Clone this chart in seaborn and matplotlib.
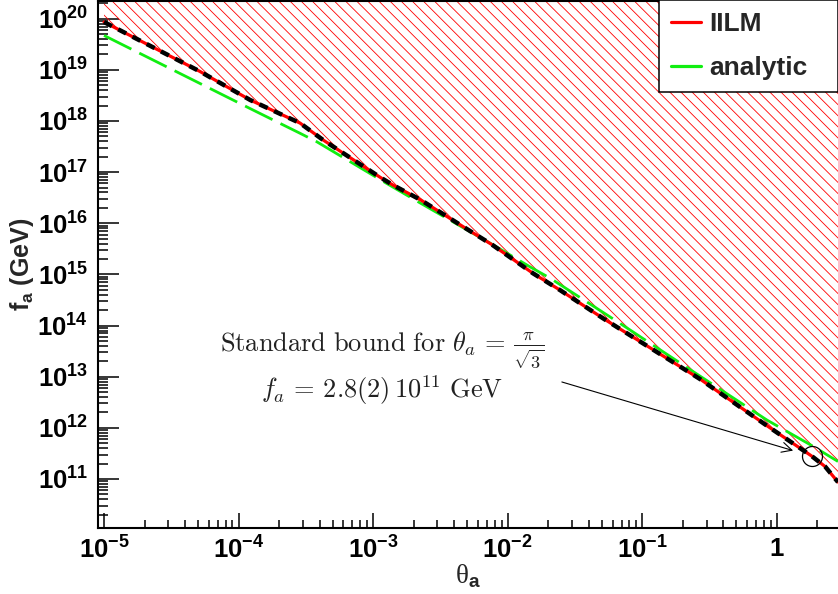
import numpy as np
import matplotlib
matplotlib.use("Agg")
import matplotlib.pyplot as plt
import seaborn as sns
from matplotlib.lines import Line2D
from matplotlib.ticker import FixedLocator, LogLocator, NullFormatter

# ---------------- data ----------------
iilm_theta = [1.0e-5, 5.16e-5, 1.22e-4, 2.86e-4, 4.24e-4, 1.12e-3, 1.40e-3, 2.26e-3,
              4.65e-3, 7.7e-3, 1.54e-2, 2.44e-2, 5.09e-2, 0.268, 0.843, 1.814, 2.28, 2.84]
iilm_fa = [8.6e19, 9.3e18, 2.57e18, 9.1e17, 4.26e17, 8.0e16, 5.6e16, 2.85e16,
           8.6e15, 3.76e15, 1.05e15, 4.95e14, 1.39e14, 9.0e12, 1.1e12, 2.8e11, 1.75e11, 8.7e10]

analytic_theta = [1.0e-5, 1.25e-4, 2.86e-4, 3.80e-4, 1.26e-3, 2.26e-3, 7.8e-3,
                  1.46e-2, 2.07e-2, 6.8e-2, 0.25, 0.843, 1.87, 2.84]
analytic_fa = [4.7e19, 1.69e18, 5.75e17, 3.94e17, 6.0e16, 2.45e16, 3.76e15,
               1.41e15, 8.4e14, 1.11e14, 1.16e13, 1.42e12, 4.3e11, 2.2e11]

theta_std = np.pi / np.sqrt(3)   # standard bound point
fa_std = 2.8e11

x_major = [1e-5, 1e-4, 1e-3, 1e-2, 1e-1, 1]
x_labels = [r"$10^{-5}$", r"$10^{-4}$", r"$10^{-3}$", r"$10^{-2}$", r"$10^{-1}$", r"$1$"]
y_major = [1e11, 1e12, 1e13, 1e14, 1e15, 1e16, 1e17, 1e18, 1e19, 1e20]
y_labels = [r"$10^{%d}$" % k for k in range(11, 21)]

legend_labels = ["IILM", "analytic"]

# ---------------- style ----------------
sns.set_style("ticks")
plt.rcParams["font.family"] = ["Liberation Sans", "DejaVu Sans"]
plt.rcParams["mathtext.fontset"] = "custom"
plt.rcParams["mathtext.rm"] = "Liberation Sans:bold"
plt.rcParams["mathtext.it"] = "Liberation Sans:bold"
plt.rcParams["mathtext.bf"] = "Liberation Sans:bold"
plt.rcParams["mathtext.sf"] = "Liberation Sans:bold"
plt.rcParams["hatch.linewidth"] = 0.6

W, H = 838, 594
fig = plt.figure(figsize=(W / 100, H / 100), dpi=100)
ax_l, ax_r, ax_t, ax_b = 97.7, 838.0, 1.0, 528.3
ax = fig.add_axes([ax_l / W, 1 - ax_b / H, (ax_r - ax_l) / W, (ax_b - ax_t) / H])

xlim = (10 ** -5.047, 10 ** 0.4535)
ylim = (10 ** 10.036, 10 ** 20.346)

# hatched excluded region above the IILM curve
ax.fill_between(iilm_theta, iilm_fa, ylim[1] * 10, facecolor="none",
                edgecolor="red", hatch="\\\\\\", linewidth=0, zorder=1)

sns.lineplot(x=analytic_theta, y=analytic_fa, ax=ax, color="#11ee11", lw=2.0,
             linestyle=(0, (11, 3.2)), zorder=3)
sns.lineplot(x=iilm_theta, y=iilm_fa, ax=ax, color="red", lw=2.3, zorder=4)
sns.lineplot(x=iilm_theta, y=iilm_fa, ax=ax, color="black", lw=3.2,
             linestyle=(0, (2.0, 1.6)), zorder=5)

ax.plot([theta_std], [fa_std], marker="o", ms=14.4, mfc="none", mec="black",
        mew=0.9, zorder=6)

ax.set_xscale("log")
ax.set_yscale("log")
ax.set_xlim(*xlim)
ax.set_ylim(*ylim)

ax.xaxis.set_major_locator(FixedLocator(x_major))
ax.set_xticklabels(x_labels)
ax.yaxis.set_major_locator(FixedLocator(y_major))
ax.set_yticklabels(y_labels)
ax.xaxis.set_minor_locator(LogLocator(base=10, subs=np.arange(2, 10), numticks=50))
ax.yaxis.set_minor_locator(LogLocator(base=10, subs=np.arange(2, 10), numticks=50))
ax.xaxis.set_minor_formatter(NullFormatter())
ax.yaxis.set_minor_formatter(NullFormatter())

ax.tick_params(axis="both", which="both", direction="in", width=1.1, colors="black")
ax.tick_params(axis="y", which="major", length=15, pad=7, labelsize=18.5)
ax.tick_params(axis="y", which="minor", length=7.2)
ax.tick_params(axis="x", which="major", length=10.8, pad=6, labelsize=18.5)
ax.tick_params(axis="x", which="minor", length=5.5)

for side in ["left", "bottom", "top"]:
    ax.spines[side].set_linewidth(1.5)
    ax.spines[side].set_color("black")
ax.spines["right"].set_visible(False)

ax.set_ylabel(r"f$_\mathbf{a}$ (GeV)", fontsize=18, fontweight="bold")
ax.yaxis.set_label_coords(-0.084, 0.5)
ax.set_xlabel(r"θ$_\mathbf{a}$", fontsize=19.5, family="Liberation Serif")
ax.xaxis.set_label_coords(0.5, -0.064)

# annotation
ax.text(0.384, 0.338, r"$\mathrm{Standard\ bound\ for\ }\theta_a\,=\,\frac{\pi}{\sqrt{3}}$",
        transform=ax.transAxes, ha="center", va="center", fontsize=19,
        math_fontfamily="cm", color="#222222")
ax.text(0.384, 0.262, r"$f_a\,=\,2.8(2)\,10^{11}\ \mathrm{GeV}$",
        transform=ax.transAxes, ha="center", va="center", fontsize=19,
        math_fontfamily="cm", color="#222222")
ax.annotate("", xy=(theta_std, fa_std), xycoords="data",
            xytext=(0.627, 0.2775), textcoords="axes fraction",
            arrowprops=dict(arrowstyle="->", lw=0.8, color="black",
                            shrinkA=0, shrinkB=14, mutation_scale=18))

handles = [Line2D([], [], color="red", lw=2.3), Line2D([], [], color="#11ee11", lw=2.3)]
x0 = (659 - ax_l) / (ax_r - ax_l)
leg = ax.legend(handles, legend_labels, loc="upper left",
                bbox_to_anchor=(x0, 0.0, 1 - x0, 1.0 + 1 / (ax_b - ax_t)),
                mode="expand", borderaxespad=0, frameon=True, fancybox=False,
                prop={"family": "Liberation Sans", "weight": "bold", "size": 19},
                handlelength=1.15, handletextpad=0.3, borderpad=0.45, labelspacing=0.77)
leg.get_frame().set_edgecolor("black")
leg.get_frame().set_linewidth(1.1)
leg.get_frame().set_alpha(1)
leg.set_zorder(10)

fig.savefig("out.png", dpi=100)
